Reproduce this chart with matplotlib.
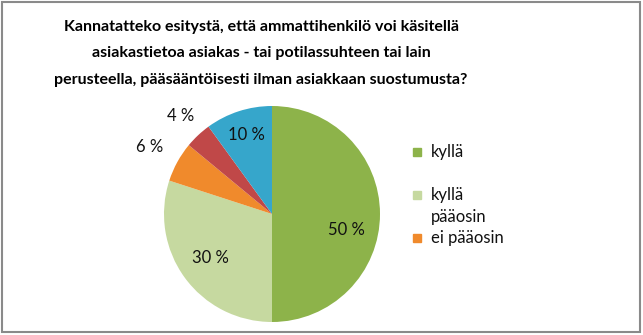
import numpy as np
import matplotlib.pyplot as plt
from matplotlib.patches import Rectangle

plt.rcParams['font.family'] = ['Lato', 'DejaVu Sans']

labels = ['kyllä', 'kyllä\npääosin', 'ei pääosin', 'ei', 'en osaa sanoa']
values = [50, 30, 6, 4, 10]
colors = ['#8db34a', '#c6d9a0', '#f08a2c', '#c04848', '#36a6cb']

title_lines = ['Kannatatteko esitystä, että ammattihenkilö voi käsitellä',
               'asiakastietoa asiakas - tai potilassuhteen tai lain',
               'perusteella, pääsääntöisesti ilman asiakkaan suostumusta?']

W, H = 643, 335
fig = plt.figure(figsize=(W / 100, H / 100), dpi=100)

# pie: centre (272, 214) px, radius 108 px
cx, cy, r = 272, 214, 108
ax = fig.add_axes([(cx - r) / W, (H - cy - r) / H, 2 * r / W, 2 * r / H])
wedges, _ = ax.pie(values, colors=colors, startangle=90, counterclock=False,
                   radius=1, wedgeprops=dict(linewidth=0))
ax.set_xlim(-1, 1)
ax.set_ylim(-1, 1)

# label distances (fraction of radius) and small angle tweaks
dist = [0.7, 0.7, 1.29, 1.24, 0.77]
tweak = [-12, 0, 0, 0, 0]
for w, v, d, t in zip(wedges, values, dist, tweak):
    ang = np.deg2rad((w.theta1 + w.theta2) / 2 + t)
    ax.text(d * np.cos(ang), d * np.sin(ang), f'{v} %', ha='center', va='center',
            fontsize=12, color='#111111', clip_on=False)

# title, one line at a time
for i, line in enumerate(title_lines):
    fig.text(261 / W, 1 - (31 + 26.5 * i) / H, line, ha='center', va='baseline',
             fontsize=11.5, fontweight='bold')

# legend (only the first three entries fit in the box)
leg_rows = [(152, [labels[0]]), (195, labels[1].split('\n')), (238, [labels[2]])]
for (y, lines), col in zip(leg_rows, colors[:3]):
    fig.patches.append(Rectangle((413 / W, 1 - (y + 4) / H), 8 / W, 8 / H,
                                 transform=fig.transFigure, color=col))
    for i, line in enumerate(lines):
        fig.text(431 / W, 1 - (y + 22 * i) / H, line, ha='left', va='center',
                 fontsize=12, color='#111111')

# chart border
fig.patches.append(Rectangle((1.5 / W, 1 - 332 / H), 638.5 / W, 330.5 / H,
                             transform=fig.transFigure, fill=False,
                             edgecolor='#8a8a8a', linewidth=1.5))

fig.savefig('out.png', dpi=100)
